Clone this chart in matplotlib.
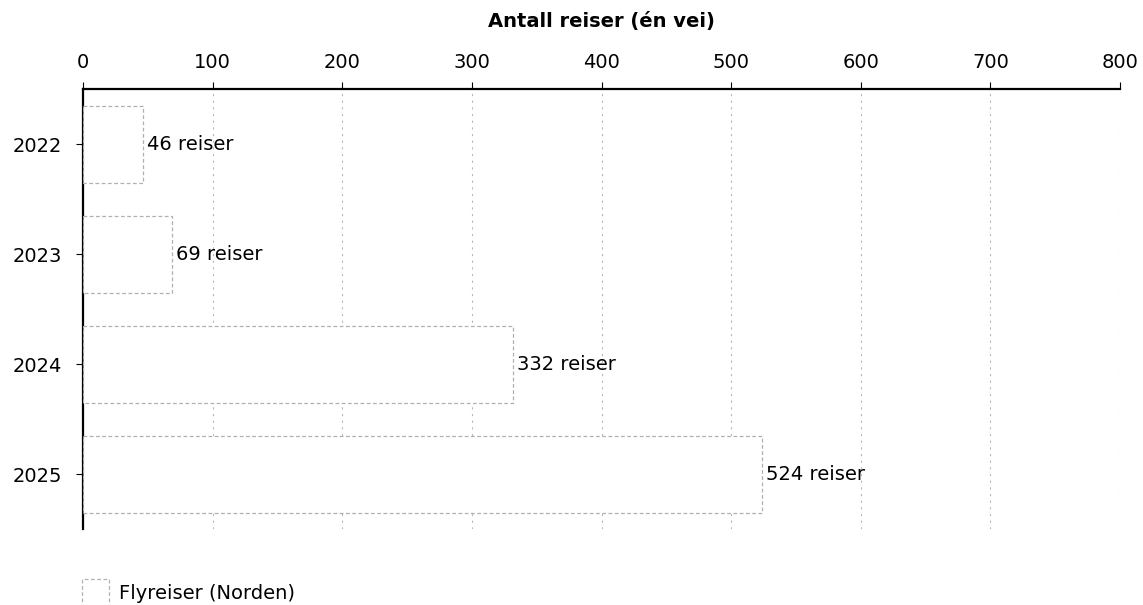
import numpy as np
import matplotlib.pyplot as plt
import matplotlib.patches as mpatches

years = ['2022', '2023', '2024', '2025']
trips = [46, 69, 332, 524]
value_labels = ['46 reiser', '69 reiser', '332 reiser', '524 reiser']
series_name = 'Flyreiser (Norden)'
x_ticks = [0, 100, 200, 300, 400, 500, 600, 700, 800]

plt.rcParams['font.family'] = ['DejaVu Sans']

fig = plt.figure(figsize=(11.43, 6.05), dpi=100)
ax = fig.add_axes([83 / 1143, 1 - 529 / 605, (1120 - 83) / 1143, (529 - 89) / 605])

pos = np.arange(len(years))
ax.barh(pos, trips, height=0.7, color='white', edgecolor='#b0b0b0',
        linestyle=(0, (3, 2)), linewidth=0.9, zorder=3)

for p, v, lab in zip(pos, trips, value_labels):
    ax.text(v + 3, p, lab, va='center', ha='left', fontsize=14, zorder=4)

ax.set_ylim(len(years) - 0.5, -0.5)
ax.set_yticks(pos)
ax.set_yticklabels(years, fontsize=14)

ax.set_xlim(0, 800)
ax.set_xticks(x_ticks)
ax.xaxis.tick_top()
ax.xaxis.set_label_position('top')
ax.tick_params(axis='x', labelsize=14, length=5, pad=7)
ax.tick_params(axis='y', length=5, pad=10)
ax.set_xlabel('Antall reiser (én vei)', fontsize=14, fontweight='bold', labelpad=19)

ax.grid(axis='x', color='#b8b8b8', linestyle=(0, (2, 4)), linewidth=0.8, zorder=0)
ax.set_axisbelow(True)

for s in ['right', 'bottom']:
    ax.spines[s].set_visible(False)
ax.spines['left'].set_linewidth(1.6)
ax.spines['top'].set_linewidth(1.6)

handle = mpatches.Patch(facecolor='white', edgecolor='#b0b0b0', linestyle=(0, (3, 2)),
                        linewidth=0.9, label=series_name)
fig.legend(handles=[handle], loc='lower left', bbox_to_anchor=(64 / 1143, -0.03),
           frameon=False, fontsize=14, handlelength=1.4, handleheight=1.7,
           handletextpad=0.55)

fig.savefig('out.png', dpi=100)
